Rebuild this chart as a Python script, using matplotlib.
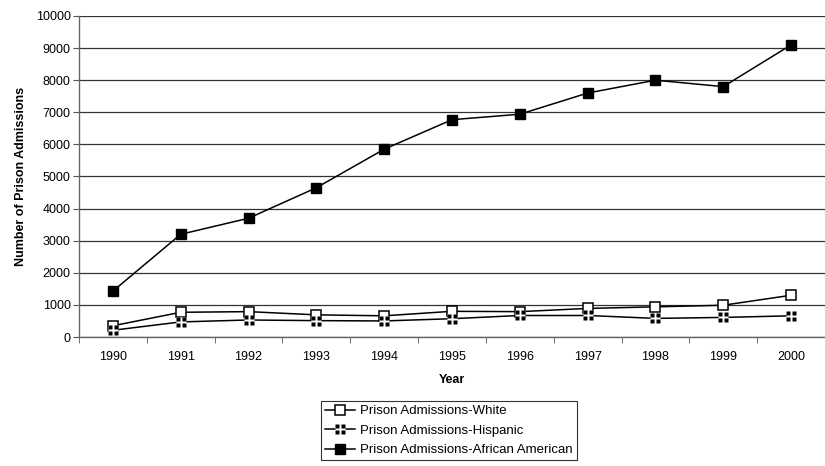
import matplotlib
matplotlib.use("Agg")
import matplotlib.pyplot as plt
from matplotlib.path import Path
from matplotlib.legend_handler import HandlerTuple
import numpy as np

years = ["1990", "1991", "1992", "1993", "1994", "1995", "1996", "1997", "1998", "1999", "2000"]
white = [350, 770, 790, 690, 660, 800, 790, 890, 940, 990, 1300]
hispanic = [210, 470, 530, 510, 500, 570, 670, 670, 580, 610, 660]
african_american = [1430, 3200, 3700, 4650, 5850, 6770, 6940, 7600, 8000, 7800, 9100]
y_ticks = list(range(0, 10001, 1000))

plt.rcParams["font.family"] = ["Liberation Sans", "DejaVu Sans"]

# Quartered square marker: four small squares separated by a cross-shaped gap
def quartered_square(gap=0.28):
    verts, codes = [], []
    h = gap / 2
    for x0, x1 in ((-1, -h), (h, 1)):
        for y0, y1 in ((-1, -h), (h, 1)):
            verts += [(x0, y0), (x1, y0), (x1, y1), (x0, y1), (x0, y0)]
            codes += [Path.MOVETO, Path.LINETO, Path.LINETO, Path.LINETO, Path.CLOSEPOLY]
    return Path(verts, codes)

quad = quartered_square()

fig = plt.figure(figsize=(8.25, 4.66), dpi=100)
ax = fig.add_axes([79 / 825, 1 - 337 / 466, 1 - 79 / 825, (337 - 16) / 466])

x = np.arange(len(years))
MS = 6.5
h_white, = ax.plot(x, white, color="black", lw=1.1, marker="s", ms=MS, mfc="white",
                   mec="black", mew=1.1, zorder=3)
# Hispanic: line, a white square underneath, then the quartered black marker
h_hisp_line, = ax.plot(x, hispanic, color="black", lw=1.1, marker="s", ms=MS,
                       mfc="white", mec="none", zorder=3)
h_hisp_mark, = ax.plot(x, hispanic, ls="none", marker=quad, ms=MS + 0.5, mfc="black",
                       mec="none", zorder=3.2)
h_aa, = ax.plot(x, african_american, color="black", lw=1.1, marker="s", ms=MS,
                mfc="black", mec="black", zorder=3)

ax.set_xlim(-0.5, len(years) - 0.5)
ax.set_ylim(0, 10000)
ax.set_yticks(y_ticks)
ax.set_yticklabels([str(v) for v in y_ticks], fontsize=9)
ax.set_xticks(x)
ax.set_xticklabels(years, fontsize=9)
ax.tick_params(axis="x", length=0, pad=10)
ax.set_xticks(np.arange(-0.5, len(years)), minor=True)
ax.tick_params(axis="x", which="minor", length=4, direction="out", color="#555555")
ax.tick_params(axis="y", length=4, direction="out", color="#555555", pad=2)

ax.yaxis.grid(True, color="#333333", lw=0.9)
ax.set_axisbelow(True)
for s in ("top", "right"):
    ax.spines[s].set_visible(False)
for s in ("left", "bottom"):
    ax.spines[s].set_color("#666666")
    ax.spines[s].set_linewidth(1.0)

ax.set_ylabel("Number of Prison Admissions", fontsize=9, fontweight="bold", labelpad=6)
ax.set_xlabel("Year", fontsize=9, fontweight="bold", labelpad=8)

leg = fig.legend([h_white, (h_hisp_line, h_hisp_mark), h_aa],
                 ["Prison Admissions-White", "Prison Admissions-Hispanic",
                  "Prison Admissions-African American"],
                 handler_map={tuple: HandlerTuple(ndivide=1, pad=0)},
                 loc="upper left", bbox_to_anchor=(321 / 825, 1 - 401 / 466),
                 bbox_transform=fig.transFigure, fontsize=9.5, frameon=True,
                 fancybox=False, edgecolor="black", handlelength=2.3,
                 handletextpad=0.35, borderpad=0.3, labelspacing=0.55,
                 borderaxespad=0)
leg.get_frame().set_linewidth(0.8)

fig.savefig("out.png", dpi=100)
